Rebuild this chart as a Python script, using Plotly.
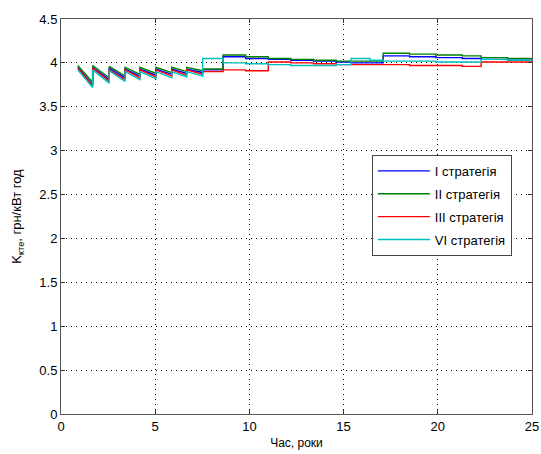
import plotly.graph_objects as go

# time grid (years); repeated values mark vertical jumps
years = [
    0.89, 1.68, 1.68, 2.56, 2.56, 3.40, 3.40, 4.19, 4.19, 5.04, 5.04, 5.88, 5.88, 6.67, 6.67, 7.52,
    7.52, 8.6, 8.6, 9.8, 9.8, 11.0, 11.0, 12.2, 12.2, 13.4, 13.4, 14.6, 14.6, 15.4, 15.4,
    16.4, 16.4, 17.1, 17.1, 18.5, 18.5, 19.9, 19.9, 21.3, 21.3, 22.3, 22.3, 23.7, 23.7, 25.0,
]

strategy_1 = [
    3.95, 3.75, 3.95, 3.81, 3.94, 3.83, 3.93, 3.85, 3.93, 3.86, 3.93, 3.87, 3.93, 3.88, 3.93, 3.89,
    3.92, 3.92, 4.07, 4.07, 4.05, 4.05, 4.04, 4.04, 4.03, 4.03, 4.02, 4.02, 4.01, 4.01, 4.00,
    4.00, 4.00, 4.00, 4.08, 4.08, 4.07, 4.07, 4.06, 4.06, 4.05, 4.05, 4.04, 4.04, 4.03, 4.03,
]

strategy_2 = [
    3.97, 3.78, 3.97, 3.83, 3.96, 3.85, 3.95, 3.87, 3.95, 3.88, 3.95, 3.89, 3.95, 3.90, 3.95, 3.91,
    3.93, 3.93, 4.09, 4.09, 4.07, 4.07, 4.05, 4.05, 4.04, 4.04, 4.03, 4.03, 4.02, 4.02, 4.02,
    4.02, 4.02, 4.02, 4.11, 4.11, 4.10, 4.10, 4.09, 4.09, 4.08, 4.08, 4.06, 4.06, 4.05, 4.05,
]

strategy_3 = [
    3.94, 3.74, 3.94, 3.79, 3.92, 3.81, 3.92, 3.83, 3.92, 3.84, 3.92, 3.85, 3.92, 3.86, 3.92, 3.87,
    3.90, 3.90, 3.92, 3.92, 3.91, 3.91, 4.01, 4.01, 4.00, 4.00, 3.99, 3.99, 3.98, 3.98, 3.98,
    3.98, 3.98, 3.98, 3.98, 3.98, 3.97, 3.97, 3.97, 3.97, 3.96, 3.96, 4.01, 4.01, 4.01, 4.01,
]

strategy_6 = [
    3.92, 3.72, 3.92, 3.77, 3.91, 3.79, 3.90, 3.81, 3.90, 3.82, 3.90, 3.83, 3.90, 3.84, 3.90, 3.85,
    4.05, 4.05, 4.00, 4.00, 3.99, 3.99, 3.98, 3.98, 3.97, 3.97, 3.97, 3.97, 3.98, 3.98, 4.05,
    4.05, 4.03, 4.03, 4.02, 4.02, 4.02, 4.02, 4.01, 4.01, 4.01, 4.01, 4.04, 4.04, 4.03, 4.03,
]

series = [
    ("I стратегія", strategy_1, "#0000FF"),
    ("II стратегія", strategy_2, "#008000"),
    ("III стратегія", strategy_3, "#FF0000"),
    ("VI стратегія", strategy_6, "#00BFBF"),
]

fig = go.Figure()
for i, (name, vals, color) in enumerate(series):
    fig.add_trace(go.Scatter(
        x=years, y=vals, name=name, mode="lines", legendgroup=f"g{i}",
        line=dict(color=color, width=1.4),
    ))

axis_common = dict(
    showline=True, linecolor="#555555", linewidth=1, mirror="ticks",
    ticks="inside", ticklen=4, tickcolor="#333333",
    showgrid=True, gridcolor="#000000", griddash="1px,4px", gridwidth=1,
    zeroline=False, automargin=False,
    tickfont=dict(family="Liberation Sans, Arial", size=13, color="#000000"),
)

fig.update_layout(
    width=541, height=454,
    margin=dict(l=61, r=9, t=19, b=40),
    paper_bgcolor="white", plot_bgcolor="white",
    font=dict(family="Liberation Sans, Arial", size=12, color="#000000"),
    showlegend=True,
    legend=dict(
        x=0.66, y=0.656, xanchor="left", yanchor="top",
        bordercolor="#444444", borderwidth=1, bgcolor="white",
        font=dict(size=13), tracegroupgap=3, itemwidth=52,
    ),
    xaxis=dict(range=[0, 25], dtick=5, tick0=0,
               title=dict(text="Час, роки", standoff=6, font=dict(size=12)),
               **axis_common),
    yaxis=dict(range=[0, 4.5], dtick=0.5, tick0=0,
               title=dict(text="K<sub>кте</sub>, грн/кВт год", standoff=14, font=dict(size=13)),
               **axis_common),
)

fig.write_html("out.html", config={"displayModeBar": False},
               post_script="document.body.style.margin='0';")
